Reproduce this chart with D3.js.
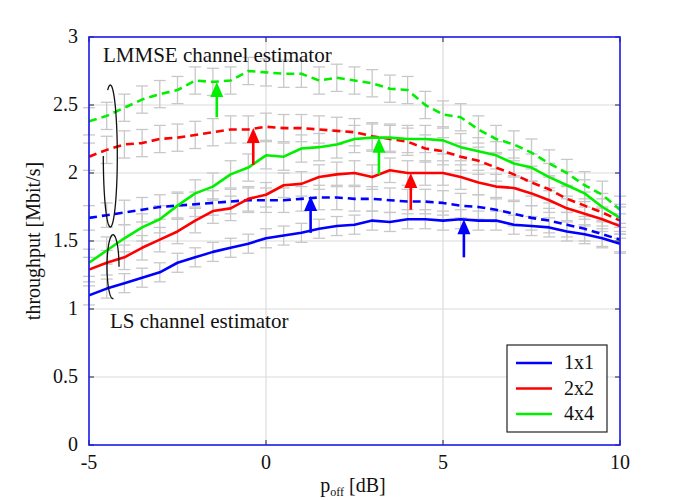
<!DOCTYPE html>
<html>
<head>
<meta charset="utf-8">
<script src="https://cdn.jsdelivr.net/npm/d3@7"></script>
<style>
  html, body { margin: 0; padding: 0; background: #fff; }
  svg { display: block; }
</style>
</head>
<body>
<svg id="chart" width="685" height="500" font-family="'Liberation Serif', 'DejaVu Serif', 'Noto Serif', serif"></svg>
<script>
// ---------------- data ----------------
const pOff = [-5, -4.5, -4, -3.5, -3, -2.5, -2, -1.5, -1, -0.5, 0, 0.5, 1, 1.5, 2, 2.5,
              3, 3.5, 4, 4.5, 5, 5.5, 6, 6.5, 7, 7.5, 8, 8.5, 9, 9.5, 10];

const ls1x1    = [1.10, 1.15, 1.19, 1.23, 1.27, 1.34, 1.38, 1.42, 1.45, 1.48, 1.52, 1.54, 1.56, 1.59, 1.61, 1.62,
                  1.65, 1.64, 1.66, 1.66, 1.65, 1.66, 1.65, 1.65, 1.62, 1.61, 1.60, 1.57, 1.55, 1.52, 1.48];
const lmmse1x1 = [1.67, 1.69, 1.71, 1.73, 1.75, 1.76, 1.77, 1.78, 1.79, 1.80, 1.80, 1.80, 1.81, 1.82, 1.82, 1.81,
                  1.81, 1.80, 1.79, 1.79, 1.78, 1.76, 1.75, 1.73, 1.70, 1.67, 1.65, 1.62, 1.59, 1.55, 1.51];
const ls2x2    = [1.29, 1.34, 1.38, 1.45, 1.51, 1.57, 1.65, 1.72, 1.74, 1.81, 1.84, 1.91, 1.92, 1.97, 1.99, 2.00,
                  1.97, 2.02, 2.00, 2.00, 2.00, 1.97, 1.93, 1.90, 1.89, 1.85, 1.80, 1.74, 1.70, 1.66, 1.61];
const lmmse2x2 = [2.12, 2.17, 2.21, 2.22, 2.25, 2.26, 2.28, 2.30, 2.32, 2.32, 2.34, 2.33, 2.33, 2.32, 2.31, 2.30,
                  2.27, 2.25, 2.23, 2.18, 2.16, 2.12, 2.09, 2.04, 1.99, 1.93, 1.88, 1.81, 1.76, 1.71, 1.65];
const ls4x4    = [1.34, 1.43, 1.52, 1.60, 1.66, 1.76, 1.85, 1.90, 1.99, 2.04, 2.13, 2.12, 2.18, 2.19, 2.21, 2.25,
                  2.26, 2.26, 2.25, 2.25, 2.24, 2.19, 2.16, 2.13, 2.07, 2.04, 1.97, 1.91, 1.85, 1.75, 1.67];
const lmmse4x4 = [2.38, 2.42, 2.48, 2.54, 2.58, 2.61, 2.68, 2.67, 2.68, 2.75, 2.74, 2.73, 2.73, 2.68, 2.70, 2.68,
                  2.66, 2.62, 2.61, 2.50, 2.43, 2.41, 2.32, 2.25, 2.21, 2.15, 2.07, 2.00, 1.91, 1.84, 1.73];

// half-length of the error bars (Mbit/s), one per series
const errHalf = { ls1x1: 0.07, lmmse1x1: 0.09, ls2x2: 0.09, lmmse2x2: 0.10, ls4x4: 0.10, lmmse4x4: 0.10 };

const legendLabels = ["1x1", "2x2", "4x4"];
const xTicks = [-5, 0, 5, 10];
const yTicks = [0, 0.5, 1, 1.5, 2, 2.5, 3];

// arrows: [x, yFrom, yTo, antenna config]
const arrowsData = [
  [-1.39, 2.41, 2.67, "4x4"],
  [-0.36, 2.06, 2.33, "2x2"],
  [ 1.26, 1.56, 1.83, "1x1"],
  [ 3.19, 1.99, 2.26, "4x4"],
  [ 4.09, 1.73, 2.00, "2x2"],
  [ 5.59, 1.38, 1.66, "1x1"]
];

// ---------------- layout ----------------
const colors = { "1x1": "#0000ff", "2x2": "#ff0000", "4x4": "#00f000" };
const svg = d3.select("#chart");
const L = 89, R = 620, T = 37, B = 445;

const x = d3.scaleLinear().domain([-5, 10]).range([L, R]);
const y = d3.scaleLinear().domain([0, 3]).range([B, T]);

const series = [
  { key: "ls1x1",    vals: ls1x1,    cfg: "1x1", dashed: false },
  { key: "lmmse1x1", vals: lmmse1x1, cfg: "1x1", dashed: true },
  { key: "ls2x2",    vals: ls2x2,    cfg: "2x2", dashed: false },
  { key: "lmmse2x2", vals: lmmse2x2, cfg: "2x2", dashed: true },
  { key: "ls4x4",    vals: ls4x4,    cfg: "4x4", dashed: false },
  { key: "lmmse4x4", vals: lmmse4x4, cfg: "4x4", dashed: true }
];

// grid
const grid = svg.append("g");
grid.selectAll("line.gx").data(xTicks.slice(1, -1)).join("line")
  .attr("x1", d => x(d)).attr("x2", d => x(d)).attr("y1", T).attr("y2", B)
  .attr("stroke", "#dcdcdc").attr("stroke-width", 1.2);
grid.selectAll("line.gy").data(yTicks.slice(1, -1)).join("line")
  .attr("y1", d => y(d)).attr("y2", d => y(d)).attr("x1", L).attr("x2", R)
  .attr("stroke", "#dcdcdc").attr("stroke-width", 1.2);

// error bars
const eb = svg.append("g").attr("stroke", "#c8c8c8").attr("stroke-width", 1.3).attr("fill", "none");
series.forEach(s => {
  const e = errHalf[s.key];
  s.vals.forEach((v, i) => {
    const px = x(pOff[i]);
    const y0 = y(v - e), y1 = y(v + e);
    eb.append("line").attr("x1", px).attr("x2", px).attr("y1", y0).attr("y2", y1);
    eb.append("line").attr("x1", px - 6).attr("x2", px + 6).attr("y1", y0).attr("y2", y0);
    eb.append("line").attr("x1", px - 6).attr("x2", px + 6).attr("y1", y1).attr("y2", y1);
  });
});

// lines
const line = d3.line().x((d, i) => x(pOff[i])).y(d => y(d));
svg.append("clipPath").attr("id", "plotclip").append("rect")
  .attr("x", L).attr("y", T).attr("width", R - L).attr("height", B - T);
const lines = svg.append("g").attr("clip-path", "url(#plotclip)");
series.forEach(s => {
  lines.append("path").datum(s.vals).attr("d", line)
    .attr("fill", "none").attr("stroke", colors[s.cfg]).attr("stroke-width", 2.6)
    .attr("stroke-linejoin", "round")
    .attr("stroke-dasharray", s.dashed ? "8,5" : null);
});

// arrows
const arr = svg.append("g");
arrowsData.forEach(([ax, yf, yt, cfg]) => {
  const px = x(ax), pf = y(yf), pt = y(yt);
  const headLen = 15, headHalf = 6.5;
  arr.append("line").attr("x1", px).attr("x2", px).attr("y1", pf).attr("y2", pt + headLen - 2)
    .attr("stroke", colors[cfg]).attr("stroke-width", 2.6);
  arr.append("path")
    .attr("d", `M${px},${pt} L${px - headHalf},${pt + headLen} L${px + headHalf},${pt + headLen} Z`)
    .attr("fill", colors[cfg]);
});

// annotation ellipses (open)
function openEllipse(cx, cy, rx, ry, t0, t1) {
  const pts = d3.range(0, 101).map(k => {
    const t = (t0 + (t1 - t0) * k / 100) * Math.PI / 180;
    return [cx + rx * Math.cos(t), cy + ry * Math.sin(t)];
  });
  return d3.line()(pts);
}
svg.append("path").attr("d", openEllipse(110.3, 156, 7, 71, 180, -112))
  .attr("fill", "none").attr("stroke", "#111").attr("stroke-width", 1.3);
svg.append("path").attr("d", openEllipse(113, 266.7, 6, 32, 0, -275))
  .attr("fill", "none").attr("stroke", "#111").attr("stroke-width", 1.3);

// ticks (inside)
const tk = svg.append("g").attr("stroke", "#444").attr("stroke-width", 1.2);
xTicks.forEach(d => {
  tk.append("line").attr("x1", x(d)).attr("x2", x(d)).attr("y1", B).attr("y2", B - 5);
  tk.append("line").attr("x1", x(d)).attr("x2", x(d)).attr("y1", T).attr("y2", T + 5);
});
yTicks.forEach(d => {
  tk.append("line").attr("x1", L).attr("x2", L + 5).attr("y1", y(d)).attr("y2", y(d));
  tk.append("line").attr("x1", R).attr("x2", R - 5).attr("y1", y(d)).attr("y2", y(d));
});

// frame
svg.append("rect").attr("x", L).attr("y", T).attr("width", R - L).attr("height", B - T)
  .attr("fill", "none").attr("stroke", "#1a1aee").attr("stroke-width", 1.6);

// tick labels
svg.append("g").selectAll("text").data(xTicks).join("text")
  .attr("x", d => x(d)).attr("y", 469).attr("text-anchor", "middle").attr("fill", "#111")
  .attr("font-size", 20).text(d => d);
svg.append("g").selectAll("text").data(yTicks).join("text")
  .attr("x", 78).attr("y", d => y(d) + 6).attr("text-anchor", "end").attr("fill", "#111")
  .attr("font-size", 20).text(d => d);

// axis titles
const xt = svg.append("text").attr("x", 353).attr("y", 492).attr("text-anchor", "middle")
  .attr("font-size", 20).attr("fill", "#111");
xt.append("tspan").text("p");
xt.append("tspan").attr("font-size", 12).attr("dy", 4).text("off");
xt.append("tspan").attr("dy", -4).text(" [dB]");

svg.append("text").attr("transform", "translate(40,241) rotate(-90)").attr("fill", "#111")
  .attr("text-anchor", "middle").attr("font-size", 20).text("throughput [Mbit/s]");

// annotation texts
svg.append("text").attr("x", 103).attr("y", 62).attr("font-size", 21).attr("fill", "#111")
  .text("LMMSE channel estimator");
svg.append("text").attr("x", 110).attr("y", 328).attr("font-size", 21).attr("fill", "#111")
  .text("LS channel estimator");

// legend
const lg = svg.append("g");
lg.append("rect").attr("x", 507).attr("y", 345).attr("width", 100).attr("height", 87)
  .attr("fill", "#fff").attr("stroke", "#222").attr("stroke-width", 1.2);
legendLabels.forEach((lab, i) => {
  const ly = 363 + i * 25.5;
  lg.append("line").attr("x1", 516).attr("x2", 552).attr("y1", ly).attr("y2", ly)
    .attr("stroke", colors[lab]).attr("stroke-width", 2.6);
  lg.append("text").attr("x", 564).attr("y", ly + 6).attr("font-size", 20).attr("fill", "#111").text(lab);
});
</script>
</body>
</html>
